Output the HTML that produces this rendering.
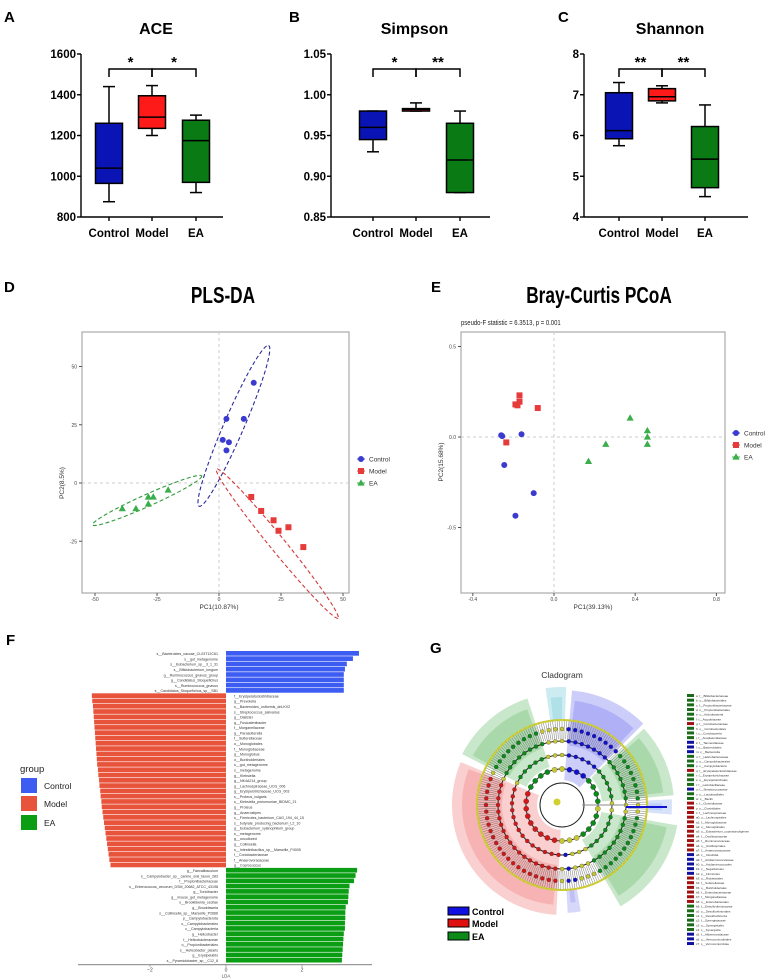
<!DOCTYPE html>
<html><head><meta charset="utf-8"><style>
html,body{margin:0;padding:0;background:#fff;}
svg{display:block;font-family:"Liberation Sans",sans-serif;}
</style></head><body>
<svg id="fig" width="767" height="980" viewBox="0 0 767 980" xmlns="http://www.w3.org/2000/svg"></svg>
<script>
// ---------- Box plot data (A-C) ----------
const boxGroups = ["Control","Model","EA"];
const boxColors = ["#0a14b4","#ff1a1a","#0a7a14"];
const aceMin=[875,1200,920], aceQ1=[965,1235,970], aceMed=[1040,1290,1175], aceQ3=[1260,1395,1275], aceMax=[1440,1445,1300];
const aceTicks=[800,1000,1200,1400,1600];
const simMin=[0.93,0.98,0.88], simQ1=[0.945,0.98,0.88], simMed=[0.96,0.982,0.92], simQ3=[0.98,0.983,0.965], simMax=[0.98,0.99,0.98];
const simTicks=[0.85,0.90,0.95,1.00,1.05];
const shaMin=[5.75,6.8,4.5], shaQ1=[5.92,6.85,4.72], shaMed=[6.12,6.95,5.42], shaQ3=[7.05,7.15,6.22], shaMax=[7.3,7.22,6.75];
const shaTicks=[4,5,6,7,8];
const sigA=["*","*"], sigB=["*","**"], sigC=["**","**"];

// ---------- PLS-DA (D) ----------
const plsCtrlX=[14,3,10,1.5,4,3], plsCtrlY=[43,27.5,27.5,18.5,17.5,14];
const plsModX=[13,17,22,24,28,34], plsModY=[-6,-12,-16,-20.5,-19,-27.5];
const plsEaX=[-39,-33.5,-28.5,-26.5,-28.5,-20.5], plsEaY=[-11,-11,-6,-6,-9,-3];
const plsXTicks=[-50,-25,0,25,50], plsYTicks=[-25,0,25,50];

// ---------- PCoA (E) ----------
const pcoCtrlX=[-0.26,-0.255,-0.16,-0.245,-0.1,-0.19], pcoCtrlY=[0.01,0.005,0.015,-0.155,-0.31,-0.435];
const pcoModX=[-0.17,-0.17,-0.19,-0.18,-0.08,-0.235], pcoModY=[0.23,0.195,0.18,0.175,0.16,-0.03];
const pcoEaX=[0.375,0.46,0.46,0.46,0.255,0.17], pcoEaY=[0.105,0.035,0.0,-0.04,-0.04,-0.135];
const pcoXTicks=[-0.4,0.0,0.4,0.8], pcoYTicks=[-0.5,0.0,0.5];

// ---------- LDA (F) ----------
const ldaCtrlNames=["s__Bacteroides_caccae_CL03T12C61","s__gut_metagenome","s__Eubacterium_sp__3_1_31","s__Bifidobacterium_longum","g__Ruminococcus_gnavus_group","g__Candidatus_Stoquefichus","s__Ruminococcus_gnavus","s__Candidatus_Stoquefichus_sp__SB1"];
const ldaCtrlVals=[3.5,3.34,3.18,3.13,3.1,3.1,3.1,3.1];
const ldaModNames=["f__Erysipelatoclostridiaceae","g__Prevotella","s__Bacteroides_uniformis_dnLKV2","s__Streptococcus_salivarius","g__Dialister","g__Fusicatenibacter","f__Morganellaceae","g__Parasutterella","f__Sutterellaceae","o__Monoglobales","f__Monoglobaceae","g__Monoglobus","o__Burkholderiales","s__gut_metagenome","s__metagenome","g__Klebsiella","g__NK4A214_group","g__Lachnospiraceae_UCG_006","g__Erysipelotrichaceae_UCG_003","s__Proteus_vulgaris","s__Klebsiella_pneumoniae_BIDMC_21","g__Proteus","g__Anaerostipes","s__Firmicutes_bacterium_CAG_194_44_15","s__butyrate_producing_bacterium_L2_10","g__Eubacterium_xylanophilum_group","s__metagenome","g__uncultured","g__Collinsella","s__Intestinibacillus_sp__Marseille_P4005","f__Coriobacteriaceae","f__Anaerovoracaceae","g__Coprococcus"];
const ldaModVals=[-3.53,-3.52,-3.5,-3.49,-3.48,-3.47,-3.46,-3.45,-3.44,-3.43,-3.42,-3.41,-3.4,-3.39,-3.37,-3.36,-3.34,-3.33,-3.31,-3.3,-3.28,-3.27,-3.25,-3.23,-3.21,-3.19,-3.17,-3.15,-3.13,-3.11,-3.09,-3.07,-3.04];
const ldaEaNames=["g__Faecalibaculum","s__Campylobacter_sp__canine_oral_taxon_283","f__Propionibacteriaceae","s__Enterococcus_cecorum_DSM_20682_ATCC_43198","g__Turicibacter","g__mouse_gut_metagenome","s__Brookfawnia_cecilae","g__Brookfawnia","s__Collinsella_sp__Marseille_P2666","p__Campylobacterota","o__Campylobacterales","c__Campylobacteria","g__Helicobacter","f__Helicobacteraceae","o__Propionibacteriales","s__Helicobacter_pisaris","g__Erysipelatris","s__Pyramidobacter_sp__C12_8"];
const ldaEaVals=[3.45,3.41,3.37,3.25,3.23,3.22,3.21,3.15,3.14,3.14,3.13,3.13,3.1,3.09,3.08,3.07,3.06,3.05];
const ldaTicks=[-2,0,2];

// ---------- Cladogram legend (G) ----------
const cladoNames=["a: f__Bifidobacteriaceae","b: o__Bifidobacteriales","c: f__Propionibacteriaceae","d: o__Propionibacteriales","e: c__Actinobacteria","f: f__Atopobiaceae","g: f__Coriobacteriaceae","h: o__Coriobacteriales","i: c__Coriobacteriia","j: f__Anaplasmataceae","k: f__Tannerellaceae","l: o__Bacteroidales","m: c__Bacteroidia","n: f__Helicobacteraceae","o: o__Campylobacterales","p: c__Campylobacteria","q: f__Erysipelatoclostridiaceae","r: f__Erysipelotrichaceae","s: o__Erysipelotrichales","t: f__Lactobacillaceae","u: f__Streptococcaceae","v: o__Lactobacillales","w: c__Bacilli","x: f__Clostridiaceae","y: o__Clostridiales","z: f__Lachnospiraceae","a0: o__Lachnospirales","a1: f__Monoglobaceae","a2: o__Monoglobales","a3: o__Eubacterium_coprostanoligenes","a4: f__Oscillospiraceae","a5: f__Ruminococcaceae","a6: o__Oscillospirales","a7: f__Anaerovoracaceae","a8: c__Clostridia","a9: f__Acidaminococcaceae","b0: o__Acidaminococcales","b1: c__Negativicutes","b2: p__Firmicutes","b3: o__Rickettsiales","b4: f__Sutterellaceae","b5: o__Burkholderiales","b6: f__Enterobacteriaceae","b7: f__Morganellaceae","b8: o__Enterobacterales","b9: f__Desulfovibrionaceae","c0: o__Desulfovibrionales","c1: c__Desulfovibrionia","c2: f__Synergistaceae","c3: o__Synergistales","c4: c__Synergistia","c5: f__Akkermansiaceae","c6: o__Verrucomicrobiales","c7: c__Verrucomicrobiae"];
const cladoGroups=["E","E","E","E","E","E","M","E","E","E","C","C","C","E","E","E","M","E","E","E","C","E","E","M","M","M","M","M","M","M","M","M","M","M","C","C","C","C","C","M","M","M","M","M","M","E","E","E","E","E","E","C","C","C"];

const NS="http://www.w3.org/2000/svg";
const svg=document.getElementById('fig');
function el(tag,attrs,parent){const e=document.createElementNS(NS,tag);for(const k in attrs)e.setAttribute(k,attrs[k]);(parent||svg).appendChild(e);return e;}
function txt(s,attrs,parent){const t=el('text',attrs,parent);t.textContent=s;return t;}

// panel letters
[["A",4,22],["B",289,22],["C",558,22],["D",4,292],["E",431,292],["F",6,645],["G",430,653]].forEach(p=>{
  const t=txt(p[0],{x:p[1],y:p[2],'font-size':15,'font-weight':'bold'});
  
  
});

// ---------- Box panels ----------
function boxPanel(name,title,ax,axEnd,cats,yTop,yBot,ticks,mn,q1,md,q3,mx,sig,fmt){
  const g=el('g',{});
  
  
  const lo=ticks[0],hi=ticks[ticks.length-1];
  const Y=v=>yBot-(v-lo)/(hi-lo)*(yBot-yTop);
  const tt=txt(title,{x:(ax+axEnd)/2+4,y:34,'font-size':16,'font-weight':'bold','text-anchor':'middle'},g);
  
  el('line',{x1:ax,y1:yTop,x2:ax,y2:yBot,stroke:'#000','stroke-width':1.4},g);
  el('line',{x1:ax,y1:yBot,x2:axEnd,y2:yBot,stroke:'#000','stroke-width':1.4},g);
  ticks.forEach(t=>{el('line',{x1:ax-4,y1:Y(t),x2:ax,y2:Y(t),stroke:'#000','stroke-width':1.4},g);
    const l=txt(fmt(t),{x:ax-5,y:Y(t)+4,'font-size':11.5,'font-weight':'bold','text-anchor':'end'},g);
    });
  cats.forEach((cx,i)=>{
    el('line',{x1:cx,y1:yBot,x2:cx,y2:yBot+4,stroke:'#000','stroke-width':1.4},g);
    const l=txt(boxGroups[i],{x:cx,y:yBot+20,'font-size':11.5,'font-weight':'bold','text-anchor':'middle'},g);
    
    const w=13.5;
    el('line',{x1:cx,y1:Y(mx[i]),x2:cx,y2:Y(mn[i]),stroke:'#000','stroke-width':1.5},g);
    el('line',{x1:cx-6,y1:Y(mx[i]),x2:cx+6,y2:Y(mx[i]),stroke:'#000','stroke-width':1.5},g);
    el('line',{x1:cx-6,y1:Y(mn[i]),x2:cx+6,y2:Y(mn[i]),stroke:'#000','stroke-width':1.5},g);
    const b=el('rect',{x:cx-w,y:Y(q3[i]),width:2*w,height:Math.max(1,Y(q1[i])-Y(q3[i])),fill:boxColors[i],stroke:'#000','stroke-width':1.5},g);
    
    el('line',{x1:cx-w,y1:Y(md[i]),x2:cx+w,y2:Y(md[i]),stroke:'#000','stroke-width':1.5},g);
  });
  for(let k=0;k<2;k++){
    const x1=cats[k],x2=cats[k+1];
    el('path',{d:`M${x1} 77 V69 H${x2} V77`,fill:'none',stroke:'#000','stroke-width':1.5},g);
    const s=txt(sig[k],{x:(x1+x2)/2,y:67,'font-size':15,'font-weight':'bold','text-anchor':'middle'},g);
    
  }
}
boxPanel('ace','ACE',81,223,[109,152,196],54,217,aceTicks,aceMin,aceQ1,aceMed,aceQ3,aceMax,sigA,v=>String(v));
boxPanel('simpson','Simpson',331,490,[373,416,460],54,217,simTicks,simMin,simQ1,simMed,simQ3,simMax,sigB,v=>v.toFixed(2));
boxPanel('shannon','Shannon',584,748,[619,662,705],54,217,shaTicks,shaMin,shaQ1,shaMed,shaQ3,shaMax,sigC,v=>String(v));

// ---------- Scatter panels ----------
const grpCol=["#3b3bd0","#e63b3b","#3aae4a"];
function marker(g,shape,x,y,c,nm){
  let m;
  if(shape===0)m=el('circle',{cx:x,cy:y,r:3,fill:c},g);
  else if(shape===1)m=el('rect',{x:x-3,y:y-3,width:6,height:6,fill:c},g);
  else m=el('path',{d:`M${x} ${y-3.8} L${x+3.6} ${y+2.6} L${x-3.6} ${y+2.6}Z`,fill:c},g);
  
}
function legendD(g,x,ys){
  ["Control","Model","EA"].forEach((n,i)=>{
    el('line',{x1:x-4,y1:ys[i],x2:x+4,y2:ys[i],stroke:grpCol[i],'stroke-width':1},g);
    marker(g,i,x,ys[i],grpCol[i],'legend-marker-'+n.toLowerCase());
    const t=txt(n,{x:x+8,y:ys[i]+2.5,'font-size':6.5,fill:'#333'},g);
    
  });
}
// D
(function(){
  const g=el('g',{});
  const X=v=>219+v*2.48, Y=v=>483-v*2.33;
  const t=txt('PLS-DA',{x:223,y:303,'font-size':23,'font-weight':'bold','text-anchor':'middle',transform:'translate(223 303) scale(0.75 1) translate(-223 -303)'},g);
  
  el('rect',{x:82,y:332,width:267,height:261,fill:'#fff',stroke:'#aaa','stroke-width':1.2},g);
  el('line',{x1:X(0),y1:332,x2:X(0),y2:593,stroke:'#ccc','stroke-dasharray':'3 3'},g);
  el('line',{x1:82,y1:Y(0),x2:349,y2:Y(0),stroke:'#ccc','stroke-dasharray':'3 3'},g);
  plsXTicks.forEach(v=>{el('line',{x1:X(v),y1:593,x2:X(v),y2:596,stroke:'#555'},g);
    const l=txt(String(v),{x:X(v),y:601,'font-size':5,'text-anchor':'middle',fill:'#444'},g);});
  plsYTicks.forEach(v=>{el('line',{x1:79,y1:Y(v),x2:82,y2:Y(v),stroke:'#555'},g);
    const l=txt(String(v),{x:77,y:Y(v)+2,'font-size':5,'text-anchor':'end',fill:'#444'},g);});
  const xl=txt('PC1(10.87%)',{x:219,y:609,'font-size':6.5,'text-anchor':'middle',fill:'#333'},g);
  const yl=txt('PC2(8.5%)',{x:64,y:483,'font-size':6.5,'text-anchor':'middle',fill:'#333',transform:'rotate(-90 64 483)'},g);
  function ell(a,b,minor,c,nm){const x1=X(a[0]),y1=Y(a[1]),x2=X(b[0]),y2=Y(b[1]);const cx=(x1+x2)/2,cy=(y1+y2)/2;const L=Math.hypot(x2-x1,y2-y1)/2;const ang=Math.atan2(y2-y1,x2-x1)*180/Math.PI;
    const e=el('ellipse',{cx:cx,cy:cy,rx:L,ry:minor,fill:'none',stroke:c,'stroke-width':1.1,'stroke-dasharray':'4 2.5',transform:`rotate(${ang} ${cx} ${cy})`},g);}
  ell([-8,-10],[20,59],10,'#2b2b9c','control-ellipse');
  ell([-1,6],[48,-58],7.5,'#d43a3a','model-ellipse');
  ell([-51,-18],[-7,3],6,'#2f9a3a','ea-ellipse');
  plsCtrlX.forEach((v,i)=>marker(g,0,X(v),Y(plsCtrlY[i]),grpCol[0],'control-point'));
  plsModX.forEach((v,i)=>marker(g,1,X(v),Y(plsModY[i]),grpCol[1],'model-point'));
  plsEaX.forEach((v,i)=>marker(g,2,X(v),Y(plsEaY[i]),grpCol[2],'ea-point'));
  legendD(g,361,[459,471,483]);
})();
// E
(function(){
  const g=el('g',{});
  const X=v=>554+v*203, Y=v=>437-v*181;
  const t=txt('Bray-Curtis PCoA',{x:599,y:303,'font-size':23,'font-weight':'bold','text-anchor':'middle',transform:'translate(599 303) scale(0.75 1) translate(-599 -303)'},g);
  
  const st=txt('pseudo-F statistic = 6.3513, p = 0.001',{x:461,y:325,'font-size':7,fill:'#222',transform:'translate(461 325) scale(0.85 1) translate(-461 -325)'},g);
  
  el('rect',{x:461,y:332,width:264,height:261,fill:'#fff',stroke:'#aaa','stroke-width':1.2},g);
  el('line',{x1:X(0),y1:332,x2:X(0),y2:593,stroke:'#ccc','stroke-dasharray':'3 3'},g);
  el('line',{x1:461,y1:Y(0),x2:725,y2:Y(0),stroke:'#ccc','stroke-dasharray':'3 3'},g);
  pcoXTicks.forEach(v=>{el('line',{x1:X(v),y1:593,x2:X(v),y2:596,stroke:'#555'},g);
    const l=txt(v.toFixed(1),{x:X(v),y:601,'font-size':5,'text-anchor':'middle',fill:'#444'},g);});
  pcoYTicks.forEach(v=>{el('line',{x1:458,y1:Y(v),x2:461,y2:Y(v),stroke:'#555'},g);
    const l=txt(v.toFixed(1),{x:456,y:Y(v)+2,'font-size':5,'text-anchor':'end',fill:'#444'},g);});
  const xl=txt('PC1(39.13%)',{x:593,y:609,'font-size':6.5,'text-anchor':'middle',fill:'#333'},g);
  const yl=txt('PC2(15.68%)',{x:443,y:462,'font-size':6.5,'text-anchor':'middle',fill:'#333',transform:'rotate(-90 443 462)'},g);
  pcoCtrlX.forEach((v,i)=>marker(g,0,X(v),Y(pcoCtrlY[i]),grpCol[0],'control-point'));
  pcoModX.forEach((v,i)=>marker(g,1,X(v),Y(pcoModY[i]),grpCol[1],'model-point'));
  pcoEaX.forEach((v,i)=>marker(g,2,X(v),Y(pcoEaY[i]),grpCol[2],'ea-point'));
  legendD(g,736,[433,445,457]);
})();

// ---------- F: LDA bars ----------
(function(){
  const g=el('g',{});
  const X0=226,U=38,top=651,bh=5.29;
  const X=v=>X0+v*U;
  const all=[];
  ldaCtrlNames.forEach((n,i)=>all.push([n,ldaCtrlVals[i],'#3d5cf2','control']));
  ldaModNames.forEach((n,i)=>all.push([n,ldaModVals[i],'#e8533c','model']));
  ldaEaNames.forEach((n,i)=>all.push([n,ldaEaVals[i],'#0b9e14','ea']));
  all.forEach((d,i)=>{
    const y=top+i*bh;const v=d[1];
    const r=el('rect',{x:Math.min(X(0),X(v)),y:y,width:Math.abs(X(v)-X(0)),height:bh-0.6,fill:d[2]},g);
    
    const pos=v>0;
    const t=txt(d[0],{x:pos?X0-8:X0+8,y:y+bh-1.2,'font-size':3.6,'text-anchor':pos?'end':'start',fill:'#333'},g);
    
  });
  const yA=top+all.length*bh+1.5;
  el('line',{x1:78,y1:yA,x2:372,y2:yA,stroke:'#999','stroke-width':1.2},g);
  ldaTicks.forEach(v=>{el('line',{x1:X(v),y1:yA,x2:X(v),y2:yA+2,stroke:'#999'},g);
    const l=txt(String(v).replace('-','−'),{x:X(v),y:yA+7,'font-size':5,'text-anchor':'middle',fill:'#444'},g);});
  const al=txt('LDA',{x:X0,y:yA+13,'font-size':4.5,'text-anchor':'middle',fill:'#444'},g);
  const gl=txt('group',{x:20,y:772,'font-size':9.5,fill:'#222'},g);
  [["Control","#3d5cf2",778],["Model","#e8533c",796],["EA","#0b9e14",815]].forEach(l=>{
    const r=el('rect',{x:21,y:l[2],width:16,height:15,fill:l[1]},g);
    const t=txt(l[0],{x:44,y:l[2]+11,'font-size':8.5,fill:'#222'},g);
  });
})();

// ---------- G: cladogram ----------
(function(){
  const g=el('g',{});
  const cx=562,cy=805;
  const ttl=txt('Cladogram',{x:562,y:678,'font-size':8.5,'text-anchor':'middle',fill:'#333'},g);
  const P=(r,a)=>[cx+r*Math.sin(a*Math.PI/180),cy-r*Math.cos(a*Math.PI/180)];
  function wedge(a1,a2,r1,r2,fill,op,nm){
    const p1=P(r2,a1),p2=P(r2,a2),p3=P(r1,a2),p4=P(r1,a1);const lg=(a2-a1)>180?1:0;
    const w=el('path',{d:`M${p1} A${r2} ${r2} 0 ${lg} 1 ${p2} L${p3} A${r1} ${r1} 0 ${lg} 0 ${p4}Z`,fill:fill,'fill-opacity':op},g);
    
  }
  const sectors=[[-8,2,85,118,'#5bc0d0'],[5,45,25,115,'#5a5af0'],[47,85,40,112,'#4caf50'],[87,95,85,110,'#7aa0f0'],[100,150,40,117,'#4caf50'],[170,177,85,108,'#7a7af0'],[183,293,25,110,'#f06060'],[297,342,40,112,'#4caf50']];
  sectors.forEach(s=>{wedge(s[0],s[1],s[2],s[3],s[4],0.3,'clade-sector');wedge(s[0]+2,s[1]-2,Math.max(s[2],60),s[3]-10,s[4],0.25,'clade-subsector');});
  for(let a=0;a<360;a+=1.6){const p=P(66,a),q=P(84,a);el('line',{x1:p[0],y1:p[1],x2:q[0],y2:q[1],stroke:'#777','stroke-width':0.5},g);}
  [22,36,50,64].forEach(r=>el('circle',{cx:cx,cy:cy,r:r,fill:'none',stroke:'#222','stroke-width':1},g));
  el('circle',{cx:cx,cy:cy,r:85,fill:'none',stroke:'#c8c830','stroke-width':2},g);
  for(let a=0;a<360;a+=3.2){const p=P(85,a);el('circle',{cx:p[0],cy:p[1],r:1,fill:'#d0d040'},g);}
  function secCol(a){a=((a%360)+360)%360;if(a>=5&&a<=45)return '#1010d0';if((a>=47&&a<=85)||(a>=100&&a<=150)||(a>=297&&a<=342))return '#0b8a1a';if(a>=183&&a<=293)return '#d01818';if(a>=170&&a<=177)return '#1010d0';return '#c8c830';}
  [[36,12],[50,8],[64,6],[76,5]].forEach(([r,st])=>{for(let a=0;a<360;a+=st){const p=P(r,a);const c=el('circle',{cx:p[0],cy:p[1],r:r<50?2.6:2,fill:secCol(a),stroke:'#333','stroke-width':0.3},g);}});
  el('circle',{cx:cx-5,cy:cy-3,r:3.5,fill:'#d0d030'},g);
  el('line',{x1:cx+20,y1:cy,x2:cx+64,y2:cy,stroke:'#888','stroke-width':1},g);
  el('line',{x1:cx+64,y1:cy+2,x2:cx+105,y2:cy+2,stroke:'#1010d0','stroke-width':2},g);
  [["Control","#1010e0",907],["Model","#e01010",919],["EA","#0b8a1a",932]].forEach(l=>{
    const r=el('rect',{x:448,y:l[2],width:21,height:8,fill:l[1],stroke:'#000','stroke-width':1},g);
    const t=txt(l[0],{x:472,y:l[2]+8,'font-size':9,'font-weight':'bold'},g);
  });
  const cmap={C:'#1010a0',M:'#a01010',E:'#1a6a1a'};
  cladoNames.forEach((n,i)=>{const y=694+i*4.68;
    el('rect',{x:687,y:y,width:7,height:3,fill:cmap[cladoGroups[i]]},g);
    const t=txt(n,{x:696,y:y+3,'font-size':3,fill:'#333'},g);});
})();
</script>
</body></html>
